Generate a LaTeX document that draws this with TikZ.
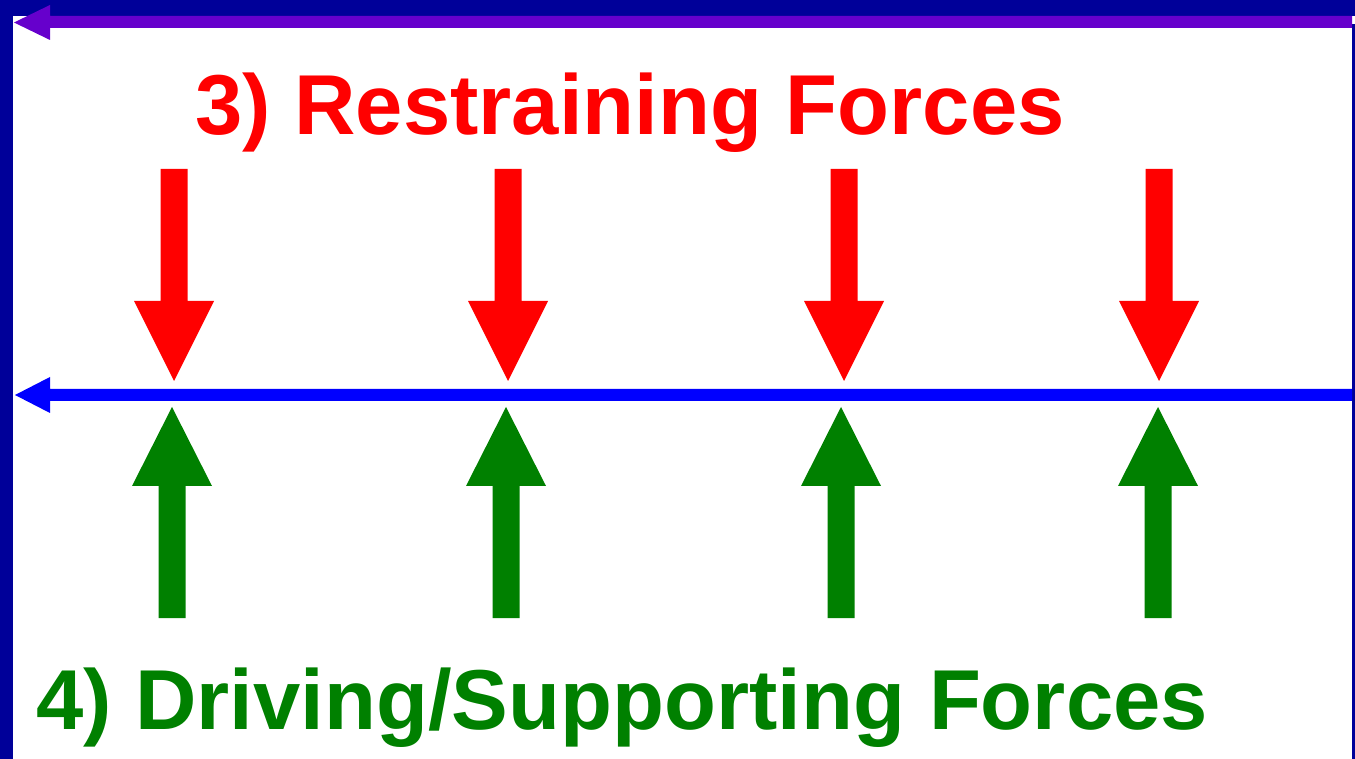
\documentclass[tikz,border=0pt]{standalone}
\usepackage{fontspec}
\setmainfont{Liberation Sans}
\usetikzlibrary{positioning}
\definecolor{framenavy}{RGB}{0,0,153}
\definecolor{topviolet}{RGB}{102,0,204}
\definecolor{lineblue}{RGB}{0,0,255}
\definecolor{forcered}{RGB}{255,0,0}
\definecolor{forcegreen}{RGB}{0,128,0}

\begin{document}
\begin{tikzpicture}[x=0.02cm, y=-0.02cm,
    forcelabel/.style={font=\fontsize{48.4}{58}\selectfont\bfseries, anchor=base, inner sep=0pt}]
  \useasboundingbox (0,0) rectangle (1355,759);
  % frame
  \fill[framenavy] (0,0) rectangle (1355,16);
  \fill[framenavy] (0,0) rectangle (13,759);
  \fill[framenavy] (1352,24) rectangle (1355,759);

  % top arrow
  \fill[topviolet] (14,22.5) -- (50,5) -- (50,16) -- (1352,16) -- (1352,28)
    -- (50,28) -- (50,40) -- cycle;

  % middle line
  \fill[lineblue] (15,395) -- (50,377) -- (50,389) -- (1352,389) -- (1352,401)
    -- (50,401) -- (50,413) -- cycle;

  % restraining forces (down)
  \foreach \cx in {174,508,844,1159}
    \fill[forcered] (\cx-13.5,169) -- (\cx+13.5,169) -- (\cx+13.5,301) -- (\cx+40,301)
      -- (\cx,381) -- (\cx-40,301) -- (\cx-13.5,301) -- cycle;

  % driving forces (up)
  \foreach \cx in {172,506,841,1158}
    \fill[forcegreen] (\cx,407) -- (\cx+40,486) -- (\cx+13.5,486) -- (\cx+13.5,618)
      -- (\cx-13.5,618) -- (\cx-13.5,486) -- (\cx-40,486) -- cycle;

  \node[forcelabel, text=forcered] (restrain) at (630,135) {3) Restraining Forces};
  \node[forcelabel, text=forcegreen] (drive) at (622,729) {4) Driving/Supporting Forces};
\end{tikzpicture}
\end{document}
